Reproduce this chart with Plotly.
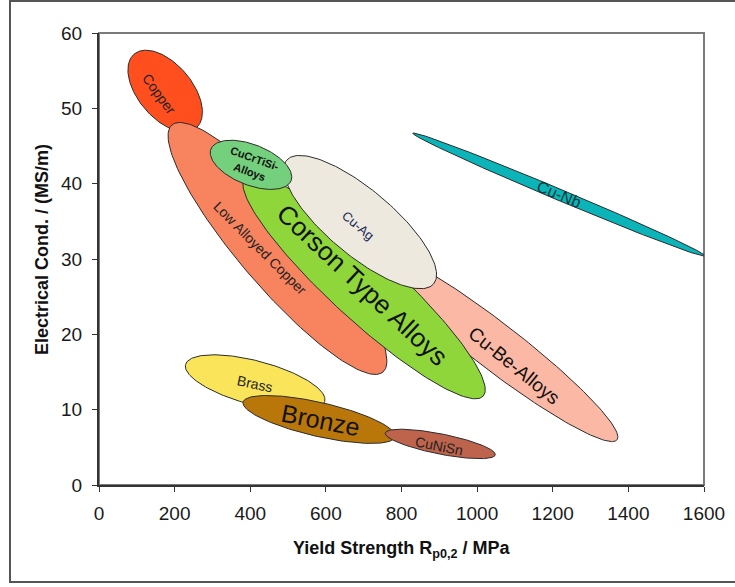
import numpy as np
import plotly.graph_objects as go

# Property fields of copper alloy families:
# long-axis end points (yield strength in MPa, conductivity in MS/m)
# and the minor/major axis ratio of each field.
alloys = ["Copper", "Low Alloyed Copper", "Cu-Be-Alloys", "Corson Type Alloys",
          "Cu-Ag", "CuCrTiSi-Alloys", "Cu-Nb", "Brass", "Bronze", "CuNiSn"]
rp_start = [93, 193, 720, 386, 496, 296, 830, 229, 381, 757]
rp_end = [257, 751, 1370, 1016, 885, 508, 1603, 597, 783, 1048]
cond_start = [57.2, 47.8, 31.1, 40.8, 43.1, 44.6, 46.7, 16.0, 11.0, 6.9]
cond_end = [47.4, 15.0, 6.0, 11.8, 26.7, 40.4, 30.4, 11.1, 6.4, 4.0]
axis_ratio = [0.56, 0.235, 0.15, 0.205, 0.34, 0.47, 0.035, 0.305, 0.218, 0.18]

# Label anchor points (MPa, MS/m)
label_rp = [159, 426, 1098, 696, 685, 405, 1217, 413, 587, 899]
label_cond = [51.9, 31.5, 15.9, 26.5, 34.5, 42.5, 38.6, 13.4, 8.6, 5.2]

x_ticks = [0, 200, 400, 600, 800, 1000, 1200, 1400, 1600]
y_ticks = [0, 10, 20, 30, 40, 50, 60]

fill_colors = ["#FF4F1F", "#F7845F", "#FBB8A4", "#8ED63A", "#EEE9DE",
               "#74D07C", "#0AB4B8", "#F9E45A", "#B9770A", "#BE634C"]
label_sizes = [14, 14, 19, 26, 13, 11, 16, 14, 25, 14]
label_angles = [54, 45, 39, 43, 40, 20, 23, 12, 11, 11]
label_bold = [False, False, False, False, False, True, False, False, False, False]
label_colors = ["#222222", "#222222", "#111111", "#111111", "#1a2a5a",
                "#111111", "#0a3a3a", "#222222", "#111111", "#222222"]

W, H = 735, 587
M_L, M_R, M_T, M_B = 99, 31, 33, 102
X_RANGE = (0, 1600)
Y_RANGE = (0, 60)
plot_w = W - M_L - M_R
plot_h = H - M_T - M_B
sx = plot_w / (X_RANGE[1] - X_RANGE[0])
sy = plot_h / (Y_RANGE[1] - Y_RANGE[0])


def ellipse_outline(x1, y1, x2, y2, ratio, n=180):
    """Ellipse between two tips, shaped in screen space, returned in data units."""
    px1, py1 = x1 * sx, y1 * sy
    px2, py2 = x2 * sx, y2 * sy
    cx, cy = (px1 + px2) / 2, (py1 + py2) / 2
    a = np.hypot(px2 - px1, py2 - py1) / 2
    b = a * ratio
    th = np.arctan2(py2 - py1, px2 - px1)
    t = np.linspace(0, 2 * np.pi, n)
    ex = cx + a * np.cos(t) * np.cos(th) - b * np.sin(t) * np.sin(th)
    ey = cy + a * np.cos(t) * np.sin(th) + b * np.sin(t) * np.cos(th)
    return ex / sx, ey / sy


fig = go.Figure()

for i, name in enumerate(alloys):
    ex, ey = ellipse_outline(rp_start[i], cond_start[i], rp_end[i], cond_end[i], axis_ratio[i])
    fig.add_trace(go.Scatter(
        x=ex, y=ey, mode="lines", fill="toself", name=name,
        fillcolor=fill_colors[i], line=dict(color="#2b2b2b", width=1),
        hoverinfo="name", showlegend=False,
    ))

for i, name in enumerate(alloys):
    txt = name
    if name == "CuCrTiSi-Alloys":
        txt = "CuCrTiSi-<br>Alloys"
    if label_bold[i]:
        txt = "<b>" + txt + "</b>"
    fig.add_annotation(
        x=label_rp[i], y=label_cond[i], text=txt, showarrow=False,
        textangle=label_angles[i], xanchor="center", yanchor="middle",
        font=dict(family="Liberation Sans, Arial", size=label_sizes[i], color=label_colors[i]),
    )

# Axis titles
fig.add_annotation(
    xref="paper", yref="paper", x=0.5, y=(M_T + plot_h - 549) / plot_h,
    xanchor="center", yanchor="middle", showarrow=False,
    text="<b>Yield Strength R<sub>p0,2</sub> / MPa</b>",
    font=dict(family="Liberation Sans, Arial", size=18, color="#111111"),
)
fig.add_annotation(
    xref="paper", yref="paper", x=(42 - M_L) / plot_w, y=(M_T + plot_h - 250) / plot_h,
    xanchor="center", yanchor="middle", showarrow=False, textangle=-90,
    text="<b>Electrical Cond. / (MS/m)</b>",
    font=dict(family="Liberation Sans, Arial", size=18, color="#111111"),
)

# Plot-area border (top / right) and outer frame
fig.add_shape(type="rect", xref="paper", yref="paper", x0=0, y0=0, x1=1, y1=1,
              line=dict(color="#7a7a7a", width=2), layer="below")
fig.add_shape(type="rect", xref="paper", yref="paper",
              x0=(10 - M_L) / plot_w, x1=(745 - M_L) / plot_w,
              y0=(M_T + plot_h - 582) / plot_h, y1=(M_T + plot_h - 1) / plot_h,
              line=dict(color="#555555", width=2), layer="below")

axis_font = dict(family="Liberation Sans, Arial", size=19, color="#1a1a1a")
fig.update_xaxes(
    range=list(X_RANGE), tickvals=x_ticks, ticks="outside", ticklen=5,
    tickcolor="#333333", showline=True, linecolor="#333333", linewidth=2,
    showgrid=False, zeroline=False, tickfont=axis_font, ticklabelstandoff=5,
    fixedrange=True,
)
fig.update_yaxes(
    range=list(Y_RANGE), tickvals=y_ticks, ticks="outside", ticklen=5,
    tickcolor="#333333", showline=True, linecolor="#333333", linewidth=2,
    showgrid=False, zeroline=False, tickfont=axis_font, ticklabelstandoff=6,
    fixedrange=True,
)

fig.update_layout(
    width=W, height=H,
    margin=dict(l=M_L, r=M_R, t=M_T, b=M_B, autoexpand=False),
    paper_bgcolor="white", plot_bgcolor="white",
    showlegend=False,
)

fig.write_html("out.html", config={"displayModeBar": False})
